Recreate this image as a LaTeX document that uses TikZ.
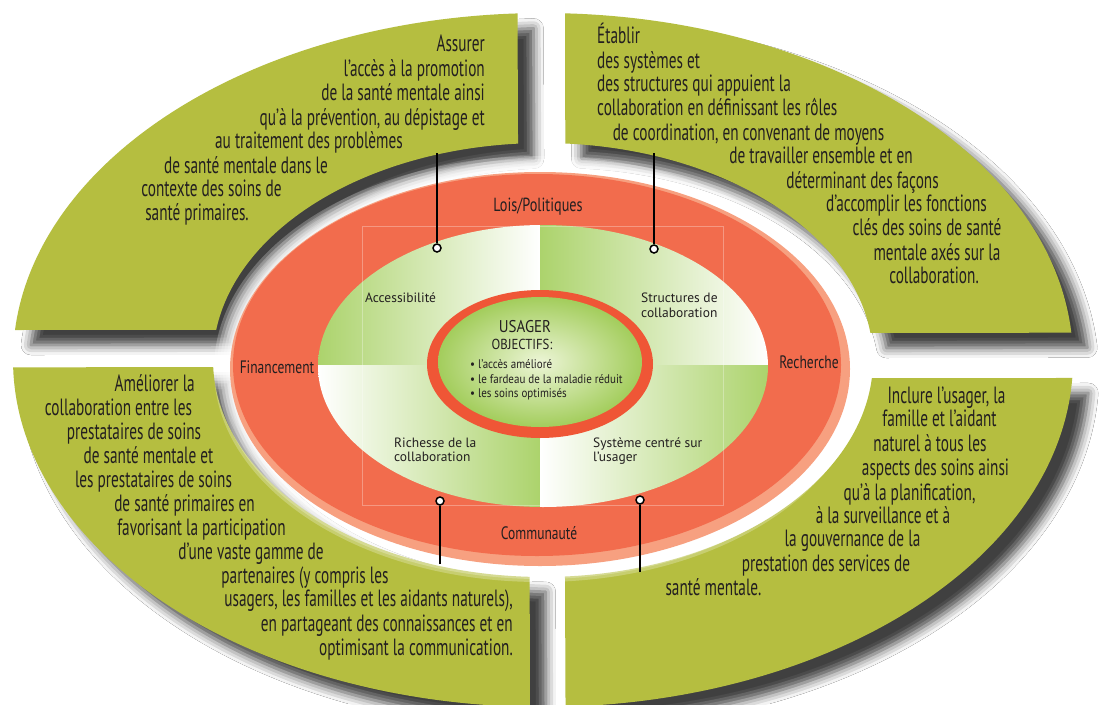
\documentclass[tikz,border=0pt]{standalone}
\usepackage{fontspec}
\setmainfont{PT Sans}
\newfontfamily\bigfont[FakeStretch=0.65]{PT Sans}
\newfontfamily\labfont[FakeStretch=0.75]{PT Sans}
\newfontfamily\smfont[FakeStretch=0.88]{PT Sans}
\usetikzlibrary{shadows.blur}
\definecolor{oliveG}{RGB}{181,190,64}
\definecolor{ringred}{RGB}{242,108,77}
\definecolor{salmonR}{RGB}{247,160,128}
\definecolor{corered}{RGB}{239,86,54}
\definecolor{qgreen}{RGB}{172,211,108}
\definecolor{cgreen}{RGB}{163,205,92}
\definecolor{cgreenL}{RGB}{236,245,214}
\definecolor{txtc}{RGB}{35,31,32}
\begin{document}
\begin{tikzpicture}[x=1pt,y=-1pt,
  quad/.style={fill=oliveG, blur shadow={shadow xshift=16pt, shadow yshift=-15pt, shadow blur radius=10pt, shadow opacity=75}},
  bigtxt/.style={font=\bigfont\fontsize{23.5}{24}\selectfont, text=txtc, inner sep=0pt},
  ringlab/.style={font=\labfont\fontsize{18}{20}\selectfont, text=txtc, inner sep=0pt, anchor=base},
  innlab/.style={font=\fontsize{13.5}{15}\selectfont, text=txtc, inner sep=0pt, anchor=base west},
  bullet/.style={font=\smfont\fontsize{12.5}{14}\selectfont, text=txtc, inner sep=0pt, anchor=base west},
  pin/.style={circle, draw=black, fill=white, line width=1.5pt, minimum size=8pt, inner sep=0pt},
  conn/.style={draw=black, line width=1.4pt}]
\useasboundingbox (0,0) rectangle (1100,704);
\fill[white] (0,0) rectangle (1100,704);

% ---- outer quadrants ----
% top left
\path[quad] plot[domain=0:1, samples=80, variable=\s] ({543+530*cos(-175.04+82.34*\s)},{360+347*sin(-175.04+82.34*\s)})
  -- plot[domain=0:1, samples=80, variable=\s] ({543+330*cos(-94.34-77.71*\s)},{360+217*sin(-94.34-77.71*\s)}) -- cycle;
% top right
\path[quad] plot[domain=0:1, samples=80, variable=\s] ({543+530*cos(-87.62+83.16*\s)},{360+347*sin(-87.62+83.16*\s)})
  -- plot[domain=0:1, samples=80, variable=\s] ({543+330*cos(-7.15-79.03*\s)},{360+217*sin(-7.15-79.03*\s)}) -- cycle;
% bottom left
\path[quad] plot[domain=0:1, samples=80, variable=\s] ({543+530*cos(91.41+87.43*\s)},{360+347*sin(91.41+87.43*\s)})
  -- plot[domain=0:1, samples=80, variable=\s] ({543+330*cos(178.15-85.89*\s)},{360+217*sin(178.15-85.89*\s)}) -- cycle;
% bottom right
\path[quad] plot[domain=0:1, samples=80, variable=\s] ({543+530*cos(2.97+84.65*\s)},{360+347*sin(2.97+84.65*\s)})
  -- plot[domain=0:1, samples=80, variable=\s] ({543+330*cos(86.18-81.42*\s)},{360+217*sin(86.18-81.42*\s)}) -- cycle;

% ---- red ring ----
\foreach \rx/\ry in {326pt/213pt, 323pt/210pt, 320pt/207pt, 317pt/204pt, 314pt/201pt, 312pt/199pt}
  \fill[white, opacity=0.25] (540,369) ellipse[x radius=\rx, y radius=\ry];
\fill[salmonR] (540,369) ellipse[x radius=310pt, y radius=197pt];
\fill[ringred] (537,365) ellipse[x radius=304pt, y radius=191pt];

% ---- inner quadrants ----
\begin{scope}
\clip (543,366) ellipse[x radius=225pt, y radius=141pt];
\shade[left color=qgreen, right color=white] (318,225) rectangle (540,365);
\shade[left color=qgreen, right color=white] (540,225) rectangle (768,365);
\shade[left color=white, right color=qgreen] (318,365) rectangle (540,507);
\shade[left color=white, right color=qgreen] (540,365) rectangle (768,507);
\end{scope}
\draw[white, opacity=0.3, line width=0.8pt] (362,226) rectangle (723,505);

% ---- centre ----
\fill[corered] (540,364) ellipse[x radius=113pt, y radius=74pt];
\shade[inner color=cgreenL, outer color=cgreen] (540,362) ellipse[x radius=102pt, y radius=65pt];

% ---- ring labels ----
\node[ringlab, font=\labfont\fontsize{19}{21}\selectfont] (lois) at (538,211) {Lois/Politiques};
\node[ringlab] (fin) at (277,373) {Financement};
\node[ringlab] (rech) at (809,368) {Recherche};
\node[ringlab] (comm) at (539,539) {Communauté};

% ---- inner labels ----
\node[innlab] (acc) at (365,302) {Accessibilité};
\node[innlab] (str1) at (641,302) {Structures de};
\node[innlab] (str2) at (641,317) {collaboration};
\node[innlab] (ric1) at (394,447) {Richesse de la};
\node[innlab] (ric2) at (394,461) {collaboration};
\node[innlab] (sys1) at (593,447) {Système centré sur};
\node[innlab] (sys2) at (593,461) {l’usager};

% ---- centre text ----
\node[ringlab, font=\smfont\fontsize{17}{19}\selectfont] (usager) at (525,332) {USAGER};
\node[ringlab, font=\smfont\fontsize{14.5}{16}\selectfont] (obj) at (522,349) {OBJECTIFS:};
\node[bullet] (b1) at (470,368) {• l’accès amélioré};
\node[bullet] (b2) at (470,383) {• le fardeau de la maladie réduit};
\node[bullet] (b3) at (470,397) {• les soins optimisés};

% ---- big texts ----
\foreach \px/\py/\an/\tx [count=\i] in {
 485/43/base east/{Assurer},
 485/68/base east/{l’accès à la promotion},
 485/92/base east/{de la santé mentale ainsi},
 485/117/base east/{qu’à la prévention, au dépistage et},
 309/140/base/{au traitement des problèmes},
 246/165/base/{de santé mentale dans le},
 211.5/188/base/{contexte des soins de},
 197/212/base/{santé primaires.}}
 \node[bigtxt, anchor=\an] (tl\i) at (\px,\py+8) {\tx};

\foreach \px/\py/\an/\tx [count=\i] in {
 597/35/base west/{Établir},
 597/60/base west/{des systèmes et},
 597/83/base west/{des structures qui appuient la},
 597/107/base west/{collaboration en définissant les rôles},
 748.5/132/base/{de coordination, en convenant de moyens},
 821/155/base/{de travailler ensemble et en},
 862.5/180/base/{déterminant des façons},
 906.5/203/base/{d’accomplir les fonctions},
 927/227/base/{clés des soins de santé},
 937/252/base/{mentale axés sur la},
 934/275/base/{collaboration.}}
 \node[bigtxt, anchor=\an] (tr\i) at (\px,\py+8) {\tx};

\foreach \px/\py/\an/\tx [count=\i] in {
 195/383/base east/{Améliorer la},
 118.5/407/base/{collaboration entre les},
 134/431/base/{prestataires de soins},
 148.5/455/base/{de santé mentale et},
 153.5/479/base/{les prestataires de soins},
 184.5/503/base/{de santé primaires en},
 201.5/527/base/{favorisant la participation},
 251/551/base/{d’une vaste gamme de},
 305/575/base/{partenaires (y compris les},
 513/598/base east/{usagers, les familles et les aidants naturels),},
 513/623/base east/{en partageant des connaissances et en},
 513/647/base east/{optimisant la communication.}}
 \node[bigtxt, anchor=\an] (bl\i) at (\px,\py+8) {\tx};

\foreach \px/\py/\an/\tx [count=\i] in {
 946.5/395/base/{Inclure l’usager, la},
 939.5/418/base/{famille et l’aidant},
 930/443/base/{naturel à tous les},
 935.5/467/base/{aspects des soins ainsi},
 909.5/492/base/{qu’à la planification,},
 883/515/base/{à la surveillance et à},
 852.5/538/base/{la gouvernance de la},
 826/563/base/{prestation des services de},
 713.5/587/base/{santé mentale.}}
 \node[bigtxt, anchor=\an] (br\i) at (\px,\py+8) {\tx};

% ---- connectors ----
\coordinate (e1) at (437,153);
\coordinate (e2) at (654,153);
\coordinate (e3) at (440,564);
\coordinate (e4) at (640,572);
\node[pin] (p1) at (437,248) {};
\node[pin] (p2) at (654,249) {};
\node[pin] (p3) at (440,501) {};
\node[pin] (p4) at (640,500) {};
\draw[conn] (e1) -- (p1);
\draw[conn] (e2) -- (p2);
\draw[conn] (e3) -- (p3);
\draw[conn] (e4) -- (p4);
\end{tikzpicture}
\end{document}
